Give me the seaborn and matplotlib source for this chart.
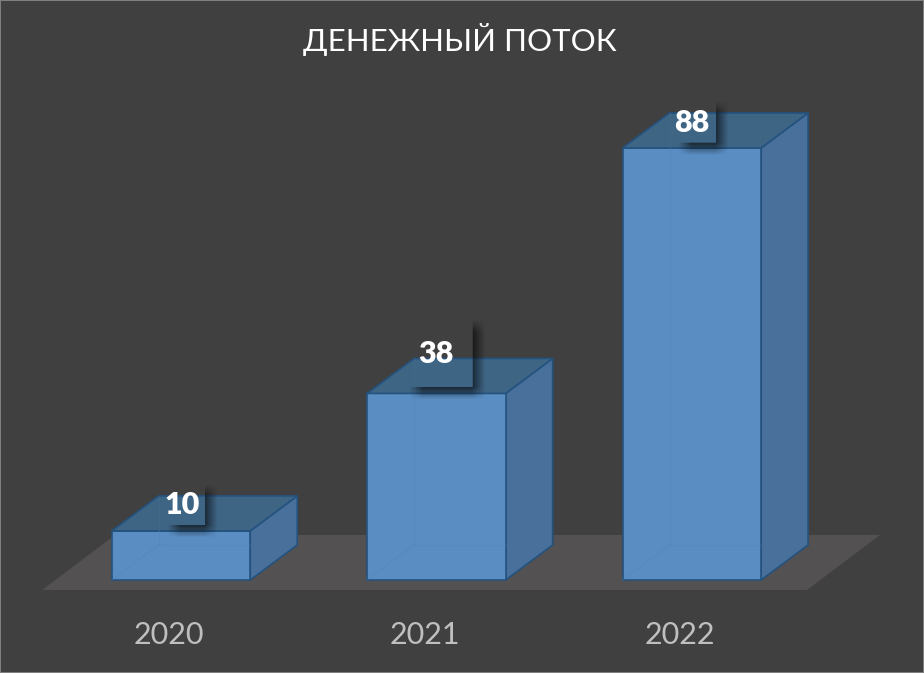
import numpy as np
import pandas as pd
import seaborn as sns
import matplotlib
matplotlib.use("Agg")
import matplotlib.pyplot as plt
from matplotlib.patches import Polygon, Rectangle
from matplotlib.transforms import ScaledTranslation

# ---- data ----
years = ["2020", "2021", "2022"]
cash_flow = [10, 38, 88]
title_text = "ДЕНЕЖНЫЙ ПОТОК"

# ---- style / layout (pixels of the 924x673 canvas) ----
W, H = 924, 673
BG = "#404040"
FLOOR = "#535151"
FRONT = "#5A8EC3"
TOP = "#3F6585"
SIDE = "#48709A"
EDGE = "#24527F"
PX_X = 255.4            # pixels per category step
PX_Y = 432.0 / 88.0     # pixels per value unit
BASE_PX = 580.0         # pixel row of value 0
AX_BOTTOM_PX = 590.0    # axes end on the floor's front edge
X0_PX = 181.0           # pixel column of first category
BAR_W = 138.5 / PX_X
DX, DY = 47.0 / PX_X, 35.0 / PX_Y
FLOOR_L, FLOOR_R = (42 - X0_PX) / PX_X, (807 - X0_PX) / PX_X
FLOOR_DX, FLOOR_DY = 73.0 / PX_X, 55.0 / PX_Y
LW = 1.2
# label placement above the bar top: (dx, dy) px, and box half-extents (l, r, t, b) px
LABEL_OFF = [(1, 26), (0, 39), (0, 25)]
LABEL_BOX = [(14, 23, 20, 20), (26, 36, 34, 33), (13, 24, 20, 20)]

sns.set_theme(style="white", rc={"font.family": ["Lato", "DejaVu Sans"]})
plt.rcParams["font.family"] = ["Lato", "DejaVu Sans"]

fig = plt.figure(figsize=(W / 100, H / 100), dpi=100, facecolor=BG)
ax = fig.add_axes([0, (H - AX_BOTTOM_PX) / H, 1, AX_BOTTOM_PX / H], facecolor=BG)

df = pd.DataFrame({"year": years, "value": cash_flow})
sns.barplot(data=df, x="year", y="value", width=BAR_W, color=FRONT, saturation=1,
            edgecolor=EDGE, linewidth=LW, zorder=4, ax=ax)

ax.set_xlim(-X0_PX / PX_X, (W - X0_PX) / PX_X)
ax.set_ylim((BASE_PX - AX_BOTTOM_PX) / PX_Y, BASE_PX / PX_Y)

# floor
y_front = ax.get_ylim()[0]
ax.add_patch(Polygon([(FLOOR_L, y_front), (FLOOR_R, y_front),
                      (FLOOR_R + FLOOR_DX, y_front + FLOOR_DY),
                      (FLOOR_L + FLOOR_DX, y_front + FLOOR_DY)],
                     closed=True, facecolor=FLOOR, edgecolor="none", zorder=1))

# 3D faces derived from the values
for i, v in enumerate(cash_flow):
    l, r = i - BAR_W / 2, i + BAR_W / 2
    ax.add_patch(Polygon([(r, 0), (r + DX, DY), (r + DX, v + DY), (r, v)], closed=True,
                         facecolor=SIDE, edgecolor=EDGE, linewidth=LW, zorder=3))
    ax.add_patch(Polygon([(l, v), (r, v), (r + DX, v + DY), (l + DX, v + DY)], closed=True,
                         facecolor=TOP, edgecolor=EDGE, linewidth=LW, zorder=5,
                         joinstyle="round"))
    # faint hidden edges seen through the translucent box
    hidden = dict(color="#4F84BA", linewidth=0.9, zorder=6, alpha=0.35)
    ax.plot([l + DX, l + DX], [DY, v], **hidden)
    ax.plot([l, l + DX], [0, DY], **hidden)
    ax.plot([l + DX, r], [DY, DY], **hidden)
    ax.plot([l + DX, l + DX], [v, v + DY], color="#44709A", linewidth=0.9, zorder=6, alpha=0.3)

# data-label shadows (L-shaped soft shadow round an invisible box) and labels
SH_OFF, SH_SOFT = 6.0, 13.0
for i, v in enumerate(cash_flow):
    ox, oy = LABEL_OFF[i]
    cx_px = X0_PX + i * PX_X + ox
    cy_px = BASE_PX - v * PX_Y - oy
    bl, br, bt, bb = LABEL_BOX[i]
    x0, x1 = cx_px - bl, cx_px + br
    y0, y1 = cy_px - bt, cy_px + bb
    xs = np.arange(x0 - 2, x1 + SH_OFF + SH_SOFT + 2) + 0.5
    ys = np.arange(y0 - 2, y1 + SH_OFF + SH_SOFT + 2) + 0.5
    X, Y = np.meshgrid(xs, ys)
    ramp_x = np.clip((X - x0 - SH_OFF + SH_SOFT / 2) / SH_SOFT, 0, 1) * \
        np.clip((x1 + SH_OFF + SH_SOFT / 2 - X) / SH_SOFT, 0, 1)
    ramp_y = np.clip((Y - y0 - SH_OFF + SH_SOFT / 2) / SH_SOFT, 0, 1) * \
        np.clip((y1 + SH_OFF + SH_SOFT / 2 - Y) / SH_SOFT, 0, 1)
    a = ramp_x * ramp_y * 0.62
    a[(X < x1) & (Y < y1)] = 0
    img = np.zeros(a.shape + (4,))
    img[..., 3] = a
    ax.imshow(img, extent=[(xs[0] - 0.5 - X0_PX) / PX_X, (xs[-1] + 0.5 - X0_PX) / PX_X,
                           (BASE_PX - ys[-1] - 0.5) / PX_Y, (BASE_PX - ys[0] + 0.5) / PX_Y],
              origin="upper", aspect="auto", zorder=7, interpolation="bilinear")
    ax.annotate(str(v), xy=(i, v), xytext=(ox * 0.72, oy * 0.72), textcoords="offset points",
                ha="center", va="center", color="white", fontsize=22, fontweight="heavy", zorder=8)

ax.set_xlim(-X0_PX / PX_X, (W - X0_PX) / PX_X)
ax.set_ylim((BASE_PX - AX_BOTTOM_PX) / PX_Y, BASE_PX / PX_Y)

ax.set_xlabel("")
ax.set_ylabel("")
ax.set_yticks([])
ax.tick_params(axis="x", length=0, pad=22, labelsize=22, labelcolor="#BFBFBF")
shift = ScaledTranslation(-12 / 100, 0, fig.dpi_scale_trans)
for lab in ax.get_xticklabels():
    lab.set_transform(lab.get_transform() + shift)
sns.despine(ax=ax, left=True, bottom=True)
ax.set_title(title_text, color="white", fontsize=22.5, x=460 / W, pad=0,
             y=(AX_BOTTOM_PX - 40) / AX_BOTTOM_PX, va="center")

fig.add_artist(Rectangle((0, 0), 1, 1, transform=fig.transFigure, facecolor="none",
                         edgecolor="#7F7F7F", linewidth=1.44))

fig.savefig("out.png", dpi=100, facecolor=BG)
